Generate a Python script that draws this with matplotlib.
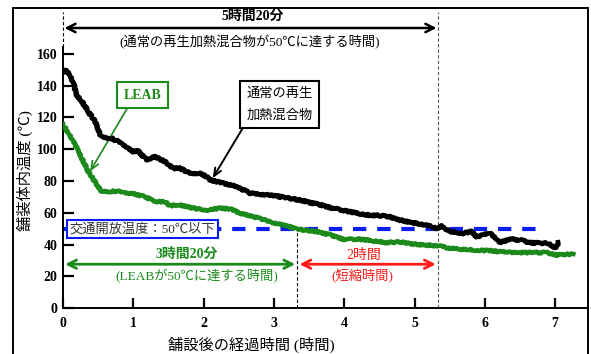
import matplotlib
matplotlib.use("Agg")
import matplotlib.pyplot as plt
from matplotlib.patches import Rectangle

# ---------------- data ----------------
t_normal = [0, 0.02, 0.08, 0.15, 0.19, 0.27, 0.36, 0.46, 0.53, 0.57, 0.69, 0.84, 0.98,
            1.07, 1.19, 1.31, 1.45, 1.57, 1.66, 1.80, 1.90, 1.95, 2.04, 2.09, 2.28, 2.47,
            2.66, 2.94, 3.23, 3.37, 3.51, 3.66, 3.84, 4.08, 4.32, 4.60, 4.79, 5.03, 5.26,
            5.33, 5.39, 5.50, 5.69, 5.81, 5.88, 6.07, 6.22, 6.36, 6.50, 6.64, 6.79, 6.90,
            7.00, 7.05]
temp_normal = [148, 150, 148, 141.5, 134, 130, 123.6, 117.3, 109, 107.3, 106.9, 103.7, 98.5,
               98.9, 93.2, 95.3, 92.2, 88, 88, 85, 84.9, 85, 82.7, 80.7, 78.6, 76.5,
               72.3, 71.2, 69.2, 68, 66.5, 65, 62.9, 60.7, 58.7, 58, 55.5, 53.4, 51.3,
               50, 51.7, 48.2, 47.2, 48.2, 45, 47.2, 41.3, 43.4, 43, 41.3, 40.9, 40.9,
               37.7, 41.3]

t_leab = [0, 0.05, 0.15, 0.22, 0.29, 0.36, 0.455, 0.55, 0.64, 0.74, 0.88, 1.02, 1.17,
          1.31, 1.45, 1.52, 1.66, 1.85, 2.04, 2.23, 2.38, 2.52, 2.71, 2.94, 3.13, 3.32,
          3.51, 3.61, 3.80, 3.99, 4.22, 4.41, 4.60, 4.79, 4.98, 5.17, 5.36, 5.50, 5.79,
          6.07, 6.36, 6.64, 6.88, 7.02, 7.26]
temp_leab = [116, 112, 104.7, 98.5, 92.2, 85.9, 79.6, 73.3, 73.3, 73.7, 72.9, 71.7, 70.2,
             67, 67, 64.5, 65, 62.9, 61.8, 62.9, 62.5, 59.7, 57.6, 54.5, 52.4, 50,
             48.8, 48.2, 46.1, 43.4, 43.4, 42.5, 41.3, 41.7, 40.4, 39.8, 39.2, 37.7, 36.7,
             36.2, 35, 35, 35, 33.5, 34.1]

x_ticks = [0, 1, 2, 3, 4, 5, 6, 7]
y_ticks = [0, 20, 40, 60, 80, 100, 120, 140, 160]
threshold = 50
t_normal_50 = 16 / 3   # 5h20m
t_leab_50 = 10 / 3     # 3h20m

FAM = ['Liberation Serif', 'Noto Sans CJK JP']
plt.rcParams['font.family'] = FAM

GREEN = '#1b8a1b'
BLUE = '#0a1ef0'
RED = '#ff1a1a'

W, H = 591, 354
fig = plt.figure(figsize=(W / 100, H / 100), dpi=100)
ax = fig.add_axes([63 / W, (H - 308.3) / H, (588 - 63) / W, (308.3 - 47.4) / H])
ax.set_xlim(0, (588 - 63) / 70.3)
ax.set_ylim(0, 164)

ax.spines['top'].set_visible(False)
ax.spines['right'].set_visible(False)
for s in ('left', 'bottom'):
    ax.spines[s].set_linewidth(1.4)

ax.set_xticks(x_ticks)
ax.set_yticks(y_ticks)
ax.tick_params(axis='x', direction='in', length=7, width=1.6, pad=6, labelsize=10)
ax.tick_params(axis='y', direction='in', length=8, width=1.6, pad=4, labelsize=10)
for lab in ax.get_xticklabels() + ax.get_yticklabels():
    lab.set_fontweight('bold')
    lab.set_family('Liberation Serif')

# threshold dashed line
ax.plot([0, 6.8], [threshold, threshold], color=BLUE, lw=3, dashes=(3.2, 2.6), zorder=2)

# curves (drawn with a slight rough stroke like the logged trace)
l1, = ax.plot(t_leab, temp_leab, color=GREEN, lw=3.2, zorder=3, solid_joinstyle='round')
l2, = ax.plot(t_normal, temp_normal, color='black', lw=3.4, zorder=4, solid_joinstyle='round')
l1.set_sketch_params(scale=0.9, length=2.5, randomness=3)
l2.set_sketch_params(scale=0.9, length=2.5, randomness=3)

# vertical guides
top_T = 186.3
ax.plot([0, 0], [164, top_T], color='black', lw=0.8, ls=(0, (3, 2)), clip_on=False)
ax.plot([t_normal_50, t_normal_50], [0, top_T], color='#555555', lw=0.8,
        ls=(0, (3, 2)), clip_on=False)
ax.plot([t_leab_50, t_leab_50], [0, threshold], color='black', lw=0.8, ls=(0, (3, 2)))

# top arrow
ax.annotate('', xy=(0.02, 176.2), xytext=(t_normal_50 - 0.02, 176.2),
            arrowprops=dict(arrowstyle='<->,head_length=0.6,head_width=0.3', lw=1.8,
                            color='black', shrinkA=0, shrinkB=0),
            annotation_clip=False)
ax.text(2.70, 183.5, '5時間20分', ha='center', va='center', fontsize=10,
        fontweight='bold', family=FAM, clip_on=False)
ax.text(2.65, 167.5, '(通常の再生加熱混合物が50℃に達する時間)', ha='center',
        va='center', fontsize=9.5, family=FAM, clip_on=False)

# LEAB label box
ax.annotate('LEAB', xy=(0.385, 86), xytext=(1.13, 134), ha='center', va='center',
            fontsize=10, fontweight='bold', color=GREEN, family=FAM,
            bbox=dict(boxstyle='square,pad=0.45', fc='white', ec=GREEN, lw=1.5),
            arrowprops=dict(arrowstyle='->,head_length=0.6,head_width=0.25', color=GREEN,
                            lw=1.2, shrinkA=0, shrinkB=0,
                            relpos=(0.2, 0)))

# normal mixture label box
ax.annotate('通常の再生\n加熱混合物', xy=(2.13, 81.8), xytext=(3.08, 128),
            ha='center', va='center', fontsize=9.5, family=FAM, linespacing=2.0,
            bbox=dict(boxstyle='square,pad=0.45', fc='white', ec='black', lw=1.5),
            arrowprops=dict(arrowstyle='->,head_length=0.6,head_width=0.25', color='black',
                            lw=1.4, shrinkA=0, shrinkB=0, relpos=(0, 0)))

# threshold label box
ax.text(1.125, 49.8, '交通開放温度：50℃以下', ha='center', va='center', fontsize=9.5,
        color='#333333', family=FAM, zorder=6,
        bbox=dict(boxstyle='square,pad=0.2', fc='white', ec=BLUE, lw=1.5))

# green double arrow
ax.annotate('', xy=(0.03, 27.7), xytext=(t_leab_50 - 0.03, 27.7),
            arrowprops=dict(arrowstyle='<->,head_length=0.6,head_width=0.3', lw=2.0,
                            color=GREEN, shrinkA=0, shrinkB=0))
ax.text(1.76, 34, '3時間20分', ha='center', va='center', fontsize=10, fontweight='bold',
        color=GREEN, family=FAM)
ax.text(1.90, 20.3, '(LEABが50℃に達する時間)', ha='center', va='center', fontsize=9.5,
        color=GREEN, family=FAM)

# red double arrow
ax.annotate('', xy=(t_leab_50 + 0.03, 27.7), xytext=(t_normal_50 - 0.03, 27.7),
            arrowprops=dict(arrowstyle='<->,head_length=0.6,head_width=0.3', lw=2.0,
                            color=RED, shrinkA=0, shrinkB=0))
ax.text(4.28, 33.5, '2時間', ha='center', va='center', fontsize=10,
        color=RED, family=FAM)
ax.text(4.26, 20.3, '(短縮時間)', ha='center', va='center', fontsize=9.5,
        color=RED, family=FAM)

# axis labels
fig.text(251 / W, 1 - 345 / H, '舗設後の経過時間 (時間)', ha='center', va='center',
         fontsize=11, family=FAM)
fig.text(25 / W, 1 - 171 / H, '舗装体内温度 (℃)', ha='center', va='center',
         fontsize=11, rotation=90, family=FAM)

# outer frame
fig.patches.append(Rectangle((13 / W, -0.1), (588 - 13) / W, 0.1 + (H - 8) / H,
                             transform=fig.transFigure, fill=False, ec='black', lw=1.4))

fig.savefig('out.png', dpi=100)
